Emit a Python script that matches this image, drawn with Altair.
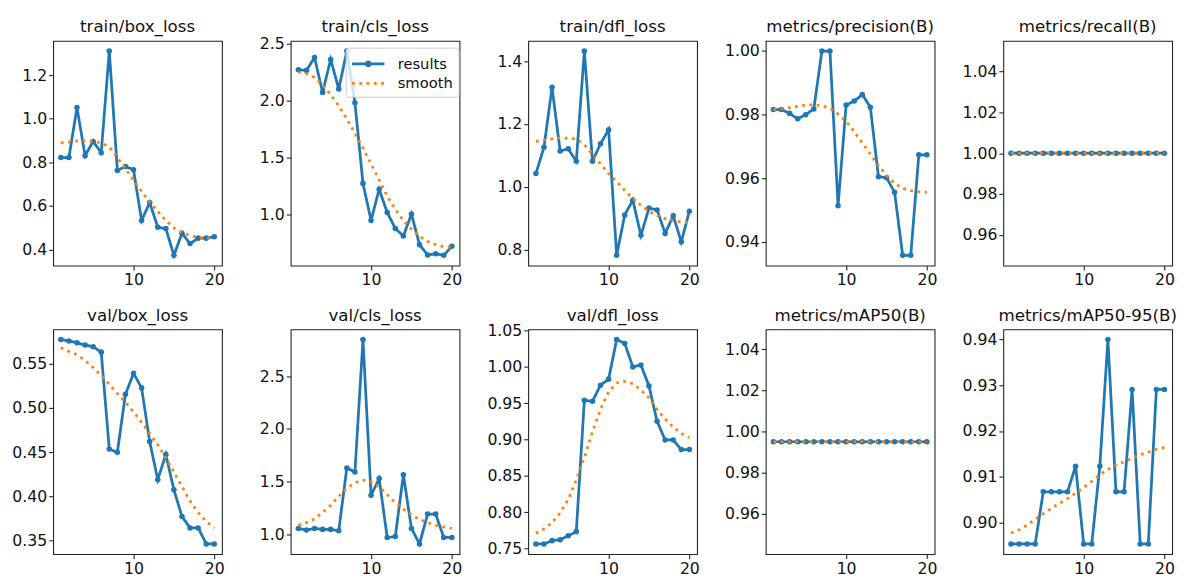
import altair as alt
import pandas as pd

BLUE = "#1f77b4"
ORANGE = "#ff7f0e"
FONT = "DejaVu Sans"

epochs = list(range(1, 21))

titles = [
    "train/box_loss", "train/cls_loss", "train/dfl_loss",
    "metrics/precision(B)", "metrics/recall(B)",
    "val/box_loss", "val/cls_loss", "val/dfl_loss",
    "metrics/mAP50(B)", "metrics/mAP50-95(B)",
]

train_box_loss = [0.822, 0.822, 1.052, 0.830, 0.896, 0.844, 1.311, 0.763, 0.781, 0.766,
                  0.533, 0.615, 0.502, 0.496, 0.373, 0.474, 0.427, 0.452, 0.452, 0.458]
train_box_loss_smooth = [0.889, 0.893, 0.898, 0.899, 0.896, 0.889, 0.870, 0.822, 0.770, 0.719,
                         0.667, 0.618, 0.575, 0.533, 0.499, 0.477, 0.464, 0.455, 0.452, 0.452]

train_cls_loss = [2.274, 2.268, 2.381, 2.075, 2.364, 2.104, 2.438, 1.985, 1.277, 0.952,
                  1.226, 1.022, 0.881, 0.816, 1.008, 0.740, 0.649, 0.660, 0.646, 0.725]
train_cls_loss_smooth = [2.254, 2.240, 2.206, 2.141, 2.056, 1.957, 1.843, 1.716, 1.589, 1.447,
                         1.306, 1.164, 1.051, 0.952, 0.875, 0.813, 0.768, 0.740, 0.722, 0.717]

train_dfl_loss = [1.042, 1.126, 1.317, 1.114, 1.121, 1.081, 1.433, 1.081, 1.137, 1.182,
                  0.781, 0.910, 0.957, 0.845, 0.932, 0.926, 0.851, 0.907, 0.824, 0.922]
train_dfl_loss_smooth = [1.145, 1.149, 1.153, 1.155, 1.155, 1.152, 1.134, 1.104, 1.073, 1.042,
                         1.016, 0.988, 0.962, 0.941, 0.922, 0.908, 0.898, 0.892, 0.887, 0.885]

precision = [0.9816, 0.9816, 0.9804, 0.9787, 0.9800, 0.9818, 1.0000, 1.0000, 0.9514, 0.9830,
             0.9843, 0.9863, 0.9823, 0.9605, 0.9602, 0.9556, 0.9358, 0.9358, 0.9674, 0.9674]
precision_smooth = [0.9816, 0.9818, 0.9822, 0.9826, 0.9830, 0.9831, 0.9828, 0.9820, 0.9802, 0.9779,
                    0.9747, 0.9711, 0.9676, 0.9640, 0.9610, 0.9584, 0.9569, 0.9561, 0.9558, 0.9556]

recall = [1.0] * 20
recall_smooth = [1.0] * 20

val_box_loss = [0.5773, 0.5758, 0.5736, 0.5711, 0.5693, 0.5631, 0.4536, 0.4500, 0.5155, 0.5391,
                0.5227, 0.4620, 0.4190, 0.4475, 0.4075, 0.3773, 0.3645, 0.3645, 0.3464, 0.3464]
val_box_loss_smooth = [0.5682, 0.5638, 0.5602, 0.5536, 0.5456, 0.5365, 0.5267, 0.5165, 0.5064, 0.4955,
                       0.4838, 0.4711, 0.4584, 0.4438, 0.4275, 0.4111, 0.3947, 0.3820, 0.3718, 0.3645]

val_cls_loss = [1.055, 1.040, 1.055, 1.046, 1.046, 1.033, 1.629, 1.590, 2.848, 1.370,
                1.528, 0.969, 0.978, 1.565, 1.055, 0.908, 1.192, 1.192, 0.969, 0.969]
val_cls_loss_smooth = [1.085, 1.110, 1.146, 1.208, 1.275, 1.360, 1.437, 1.489, 1.513, 1.498,
                       1.452, 1.376, 1.299, 1.238, 1.183, 1.140, 1.110, 1.085, 1.070, 1.055]

val_dfl_loss = [0.7566, 0.7566, 0.7611, 0.7624, 0.7677, 0.7735, 0.9540, 0.9527, 0.9748, 0.9832,
                1.0376, 1.0323, 1.0000, 1.0027, 0.9739, 0.9252, 0.8996, 0.8996, 0.8863, 0.8863]
val_dfl_loss_smooth = [0.7712, 0.7770, 0.7858, 0.7991, 0.8177, 0.8442, 0.8752, 0.9106, 0.9416, 0.9659,
                       0.9779, 0.9801, 0.9770, 0.9681, 0.9571, 0.9416, 0.9283, 0.9173, 0.9084, 0.9027]

map50 = [0.995] * 20
map50_smooth = [0.995] * 20

map50_95 = [0.8953, 0.8953, 0.8953, 0.8953, 0.9067, 0.9067, 0.9067, 0.9067, 0.9123, 0.8953,
            0.8953, 0.9123, 0.9400, 0.9067, 0.9067, 0.9291, 0.8953, 0.8953, 0.9291, 0.9291]
map50_95_smooth = [0.8977, 0.8984, 0.8994, 0.9007, 0.9019, 0.9031, 0.9042, 0.9052, 0.9064, 0.9076,
                   0.9090, 0.9104, 0.9116, 0.9125, 0.9133, 0.9141, 0.9148, 0.9154, 0.9160, 0.9164]

y_ticks = [
    [0.4, 0.6, 0.8, 1.0, 1.2],
    [1.0, 1.5, 2.0, 2.5],
    [0.8, 1.0, 1.2, 1.4],
    [0.94, 0.96, 0.98, 1.00],
    [0.96, 0.98, 1.00, 1.02, 1.04],
    [0.35, 0.40, 0.45, 0.50, 0.55],
    [1.0, 1.5, 2.0, 2.5],
    [0.75, 0.80, 0.85, 0.90, 0.95, 1.00, 1.05],
    [0.96, 0.98, 1.00, 1.02, 1.04],
    [0.90, 0.91, 0.92, 0.93, 0.94],
]
y_formats = [".1f", ".1f", ".1f", ".2f", ".2f", ".2f", ".1f", ".2f", ".2f", ".2f"]
x_ticks = [10, 20]

series_results = [train_box_loss, train_cls_loss, train_dfl_loss, precision, recall,
                  val_box_loss, val_cls_loss, val_dfl_loss, map50, map50_95]
series_smooth = [train_box_loss_smooth, train_cls_loss_smooth, train_dfl_loss_smooth, precision_smooth,
                 recall_smooth, val_box_loss_smooth, val_cls_loss_smooth, val_dfl_loss_smooth,
                 map50_smooth, map50_95_smooth]

PW, PH = 172, 229
DOT = [2.8, 4.6]
LEGEND_LINE_DOT = "M-1,0H2.3M0.85,0A0.2,0.2,0,1,1,0.45,0A0.2,0.2,0,1,1,0.85,0Z"
LEGEND_LINE = "M-1,0H2.3"


def auto_domain(values):
    lo, hi = min(values), max(values)
    if hi - lo < 1e-12:
        lo, hi = lo - 0.05 * abs(lo), hi + 0.05 * abs(hi)
    r = hi - lo
    return [lo - 0.05 * r, hi + 0.05 * r]


def panel(i):
    res, smo = series_results[i], series_smooth[i]
    df = pd.DataFrame({
        "epoch": epochs * 2,
        "value": res + smo,
        "series": ["results"] * 20 + ["smooth"] * 20,
    })
    xscale = alt.Scale(domain=[0.05, 20.95], nice=False, zero=False)
    xenc = alt.X("epoch:Q", scale=xscale, axis=alt.Axis(values=x_ticks, format="d", title=None))
    yenc = alt.Y("value:Q", scale=alt.Scale(domain=auto_domain(res + smo), nice=False, zero=False),
                 axis=alt.Axis(values=y_ticks[i], format=y_formats[i], title=None))
    base = alt.Chart(df).encode(x=xenc, y=yenc)

    title_layer = alt.Chart(pd.DataFrame({"t": [titles[i]]})).mark_text(
        font=FONT, fontSize=17, color="#111", baseline="alphabetic", align="center"
    ).encode(text="t:N", x=alt.value(PW / 2), y=alt.value(-9))

    if i == 1:
        leg = alt.Legend(title=None, orient="none", legendX=56, legendY=7,
                         symbolSize=400, symbolStrokeWidth=2.8, symbolOpacity=1,
                         labelFontSize=15, labelFont=FONT, labelColor="#111",
                         labelOffset=25, rowPadding=0, padding=5,
                         strokeColor="#cccccc", fillColor="rgba(255,255,255,0.8)",
                         cornerRadius=3)
        dom = ["results", "smooth"]
        color = alt.Color("series:N", scale=alt.Scale(domain=dom, range=[BLUE, ORANGE]), legend=leg)
        dash = alt.StrokeDash("series:N", scale=alt.Scale(domain=dom, range=[[1, 0], DOT]), legend=leg)
        shape = alt.Shape("series:N", scale=alt.Scale(domain=dom, range=[LEGEND_LINE_DOT, LEGEND_LINE]),
                          legend=leg)
        line_r = base.transform_filter("datum.series == 'results'").mark_line(strokeWidth=2.8).encode(
            color=color, strokeDash=dash)
        line_s = base.transform_filter("datum.series == 'smooth'").mark_line(strokeWidth=2.8).encode(
            color=color, strokeDash=dash)
        leg_layer = base.transform_filter("false").mark_point(filled=True, strokeWidth=2.8, opacity=1).encode(
            color=color, strokeDash=dash, shape=shape)
        pts = base.transform_filter("datum.series == 'results'").mark_circle(size=32, opacity=1, color=BLUE)
        layers = [line_r, pts, line_s, leg_layer, title_layer]
    else:
        line_r = base.transform_filter("datum.series == 'results'").mark_line(strokeWidth=2.8, color=BLUE)
        line_s = base.transform_filter("datum.series == 'smooth'").mark_line(
            strokeWidth=2.8, color=ORANGE, strokeDash=DOT)
        pts = base.transform_filter("datum.series == 'results'").mark_circle(size=32, opacity=1, color=BLUE)
        layers = [line_r, pts, line_s, title_layer]
    return alt.layer(*layers).properties(width=PW, height=PH)


row1 = alt.hconcat(*[panel(i) for i in range(5)], spacing=21).resolve_scale(
    color="independent", strokeDash="independent", shape="independent")
row2 = alt.hconcat(*[panel(i) for i in range(5, 10)], spacing=21).resolve_scale(
    color="independent", strokeDash="independent", shape="independent")

chart = alt.vconcat(row1, row2, spacing=17).resolve_scale(
    color="independent", strokeDash="independent", shape="independent"
).properties(
    padding={"left": 0, "top": 4, "right": 0, "bottom": 0},
    background="white",
).configure_view(
    stroke="#222", strokeWidth=1.1
).configure_axis(
    grid=False, domain=False, tickColor="#222", tickSize=4.5, tickWidth=1.1,
    labelFont=FONT, labelFontSize=16, labelColor="#111", labelPadding=2,
).configure_axisY(
    minExtent=45, maxExtent=45,
).configure_axisX(
    minExtent=22, maxExtent=22,
)

chart.save("out.html", embed_options={"renderer": "svg", "actions": False})
